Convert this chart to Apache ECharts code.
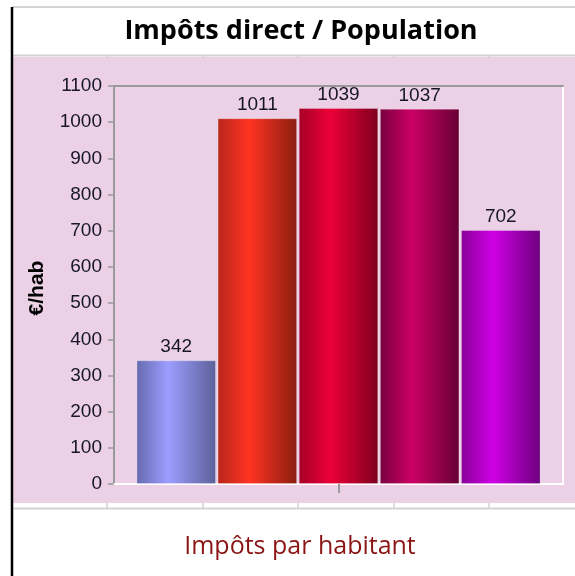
<!DOCTYPE html>
<html>
<head>
<meta charset="utf-8">
<script src="https://cdn.jsdelivr.net/npm/echarts@6/dist/echarts.min.js"></script>
<style>
  html, body { margin: 0; padding: 0; background: #fff; }
  #main { width: 575px; height: 576px; }
</style>
</head>
<body>
<div id="main"></div>
<script>
  // données
  var categories = [''];
  var seriesNames = ['A', 'B', 'C', 'D', 'E'];
  var values = [342, 1011, 1039, 1037, 702];
  var yTicks = [0, 1100, 100]; // min, max, pas
  // couleurs des barres : bord gauche, reflet, bord droit
  var barColors = [
    ['#666aae', '#9c9eff', '#5c6098'],
    ['#b8261a', '#ff3322', '#8a1e10'],
    ['#a60028', '#ec0038', '#7e001e'],
    ['#78003e', '#cc0066', '#660032'],
    ['#880096', '#d000e6', '#6c007c']
  ];
  var numFont = 'Liberation Sans';

  var chart = echarts.init(document.getElementById('main'));

  function gradient(c) {
    return new echarts.graphic.LinearGradient(0, 0, 1, 0, [
      { offset: 0, color: c[0] },
      { offset: 0.4, color: c[1] },
      { offset: 1, color: c[2] }
    ]);
  }

  var series = [];
  for (var i = 0; i < values.length; i++) {
    series.push({
      name: seriesNames[i],
      type: 'bar',
      data: [values[i]],
      barGap: '2%',
      barCategoryGap: '10%',
      itemStyle: { color: gradient(barColors[i]), borderColor: 'rgba(255,255,255,0.25)', borderWidth: 1 },
      label: {
        show: true,
        position: 'top',
        distance: 4,
        color: '#161628',
        fontFamily: numFont,
        fontSize: 19
      },
      z: 3
    });
  }

  var sepX = [107, 203, 298, 394, 489];
  var graphics = [
    // fond rose de la zone graphique
    { type: 'rect', shape: { x: 12, y: 57, width: 563, height: 446 }, style: { fill: '#ebd0e6' }, z: -10 },
    // lignes de la feuille
    { type: 'line', shape: { x1: 12, y1: 7, x2: 575, y2: 7 }, style: { stroke: '#d4d4d4', lineWidth: 2 }, z: -5 },
    { type: 'line', shape: { x1: 12, y1: 55.5, x2: 575, y2: 55.5 }, style: { stroke: '#d4d4d4', lineWidth: 2 }, z: -5 },
    { type: 'line', shape: { x1: 12, y1: 508.5, x2: 575, y2: 508.5 }, style: { stroke: '#d4d4d4', lineWidth: 2 }, z: -5 },
    { type: 'line', shape: { x1: 12, y1: 7, x2: 12, y2: 576 }, style: { stroke: '#000', lineWidth: 2.5 }, z: 5 }
  ];
  sepX.forEach(function (x) {
    graphics.push({ type: 'line', shape: { x1: x, y1: 55, x2: x, y2: 58 }, style: { stroke: '#d4d4d4', lineWidth: 1.5 }, z: -4 });
    graphics.push({ type: 'line', shape: { x1: x, y1: 503, x2: x, y2: 508 }, style: { stroke: '#d4d4d4', lineWidth: 1.5 }, z: -4 });
  });

  chart.setOption({
    backgroundColor: '#ffffff',
    animation: false,
    title: [{
      text: 'Impôts direct / Population',
      left: 296,
      top: 13,
      textAlign: 'center',
      textStyle: { fontFamily: 'Open Sans', fontWeight: 'bold', fontSize: 27, color: '#000' }
    }, {
      text: 'Impôts par habitant',
      left: 295,
      top: 529,
      textAlign: 'center',
      textStyle: { fontFamily: 'Open Sans', fontWeight: 'normal', fontSize: 25, color: '#8b1414' }
    }],
    graphic: graphics,
    grid: {
      left: 114, right: 12, top: 86, bottom: 92,
      show: true,
      backgroundColor: 'transparent',
      borderColor: '#ffffff',
      borderWidth: 2
    },
    xAxis: [{
      type: 'category',
      data: categories,
      position: 'bottom',
      axisLine: { show: true, lineStyle: { color: '#ffffff', width: 2 } },
      axisTick: { show: true, alignWithLabel: true, length: 9, lineStyle: { color: '#999', width: 2 } },
      axisLabel: { show: false }
    }, {
      type: 'category',
      data: categories,
      position: 'top',
      axisLine: { show: true, lineStyle: { color: '#999', width: 2 } },
      axisTick: { show: false },
      axisLabel: { show: false }
    }],
    yAxis: {
      type: 'value',
      min: yTicks[0],
      max: yTicks[1],
      interval: yTicks[2],
      name: '€/hab',
      nameLocation: 'middle',
      nameGap: 66,
      nameRotate: 90,
      nameTextStyle: { fontFamily: 'Liberation Sans', fontWeight: 'bold', fontSize: 21, color: '#000', padding: [0, 6, 0, 0] },
      axisLine: { show: true, lineStyle: { color: '#999', width: 2 } },
      axisTick: { show: true, length: 6, lineStyle: { color: '#999', width: 1.5 } },
      axisLabel: {
        margin: 12, color: '#161628', fontFamily: numFont, fontSize: 19,
        formatter: function (v) { return String(v); }
      },
      splitLine: { show: false }
    },
    series: series
  });
</script>
</body>
</html>
